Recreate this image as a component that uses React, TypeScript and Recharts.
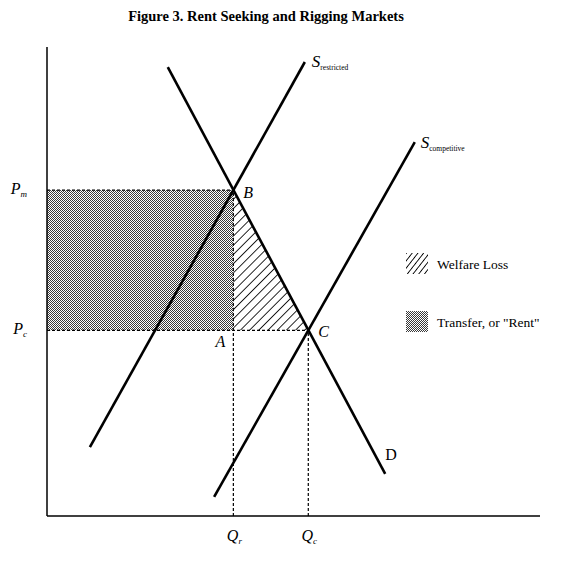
import React from 'react';
import {
  ComposedChart,
  Line,
  Area,
  XAxis,
  YAxis,
  ReferenceArea,
  ReferenceLine,
  ReferenceDot,
} from 'recharts';

// ---- Data ----
const TITLE = 'Figure 3. Rent Seeking and Rigging Markets';

// Equilibrium values
const P_M = 69.5; // restricted price
const P_C = 39.6; // competitive price
const Q_R = 37.8; // restricted quantity
const Q_C = 53.0; // competitive quantity

const priceTicks = [P_C, P_M];
const priceTickSubs: Record<string, string> = { [String(P_C)]: 'c', [String(P_M)]: 'm' };
const quantityTicks = [Q_R, Q_C];
const quantityTickSubs: Record<string, string> = { [String(Q_R)]: 'r', [String(Q_C)]: 'c' };

const sRestricted = [
  { q: 8.7, p: 14.7 },
  { q: 52.3, p: 96.8 },
];
const demand = [
  { q: 24.5, p: 95.7 },
  { q: 68.6, p: 9.0 },
];
const sCompetitive = [
  { q: 33.9, p: 4.1 },
  { q: 74.6, p: 79.7 },
];
const welfareLoss = [
  { q: Q_R, p: P_M },
  { q: Q_C, p: P_C },
];

const legendItems = [
  { label: 'Welfare Loss', fill: 'url(#hatchLegend)' },
  { label: 'Transfer, or "Rent"', fill: 'url(#stipple)' },
];

const FONT = '"Liberation Serif", "Times New Roman", serif';

const PTick = (props: any) => {
  const { x, y, payload } = props;
  const sub = priceTickSubs[String(payload.value)] ?? '';
  return (
    <text x={x - 12} y={y + 4} textAnchor="end" fontFamily={FONT} fill="#000">
      <tspan fontStyle="italic" fontSize={16}>P</tspan>
      <tspan fontStyle="italic" fontSize={9} dy={3}>{sub}</tspan>
    </text>
  );
};

const QTick = (props: any) => {
  const { x, y, payload } = props;
  const sub = quantityTickSubs[String(payload.value)] ?? '';
  return (
    <text x={x + 1} y={y + 17} textAnchor="middle" fontFamily={FONT} fill="#000">
      <tspan fontStyle="italic" fontSize={16}>Q</tspan>
      <tspan fontStyle="italic" fontSize={9} dy={3}>{sub}</tspan>
    </text>
  );
};

const pointLabel = (text: string, dx: number, dy: number, anchor: string, italic = true) =>
  (props: any) => {
    const vb = props.viewBox || {};
    const cx = (vb.x ?? 0) + (vb.width ?? 0) / 2;
    const cy = (vb.y ?? 0) + (vb.height ?? 0) / 2;
    return (
      <text
        x={cx + dx}
        y={cy + dy}
        textAnchor={anchor}
        fontFamily={FONT}
        fontSize={16}
        fontStyle={italic ? 'italic' : 'normal'}
        fill="#000"
      >
        {text}
      </text>
    );
  };

const supplyLabel = (sub: string, dx: number, dy: number) => (props: any) => {
  const vb = props.viewBox || {};
  const cx = (vb.x ?? 0) + (vb.width ?? 0) / 2;
  const cy = (vb.y ?? 0) + (vb.height ?? 0) / 2;
  return (
    <text x={cx + dx} y={cy + dy} fontFamily={FONT} fill="#000">
      <tspan fontStyle="italic" fontSize={17}>S</tspan>
      <tspan fontSize={7.5} dy={3}>{sub}</tspan>
    </text>
  );
};

const dash = { stroke: '#000', strokeWidth: 1.2, strokeDasharray: '3 2' };

export default function App() {
  return (
    <div style={{ position: 'absolute', left: 0, top: 0, width: 576, height: 561, background: '#fff' }}>
      <ComposedChart
        width={576}
        height={561}
        margin={{ top: 47, right: 36, left: 0, bottom: 0 }}
      >
        <defs>
          <pattern id="stipple" patternUnits="userSpaceOnUse" x={0} y={0} width={2} height={2}>
            <rect x={0} y={0} width={2} height={2} fill="#ffffff" shapeRendering="crispEdges" />
            <rect x={0} y={0} width={1} height={1} fill="#3a3a3a" shapeRendering="crispEdges" />
            <rect x={1} y={1} width={1} height={1} fill="#3a3a3a" shapeRendering="crispEdges" />
          </pattern>
          <pattern
            id="hatch"
            patternUnits="userSpaceOnUse"
            width={6.5}
            height={6.5}
            patternTransform="rotate(45)"
          >
            <line x1={0} y1={0} x2={0} y2={6.5} stroke="#000" strokeWidth={1.7} />
          </pattern>
          <pattern
            id="hatchLegend"
            patternUnits="userSpaceOnUse"
            width={4.5}
            height={4.5}
            patternTransform="rotate(38)"
          >
            <line x1={0} y1={0} x2={0} y2={4.5} stroke="#000" strokeWidth={1.8} />
          </pattern>
        </defs>

        <XAxis
          type="number"
          dataKey="q"
          domain={[0, 100]}
          allowDataOverflow
          ticks={quantityTicks}
          tick={<QTick />}
          tickLine={false}
          axisLine={{ stroke: '#000', strokeWidth: 1.5 }}
          height={45}
        />
        <YAxis
          type="number"
          dataKey="p"
          domain={[0, 100]}
          allowDataOverflow
          ticks={priceTicks}
          tick={<PTick />}
          tickLine={false}
          axisLine={{ stroke: '#000', strokeWidth: 1.5 }}
          width={47}
        />

        <ReferenceArea x1={0} x2={Q_R} y1={P_C} y2={P_M} fill="url(#stipple)" fillOpacity={1} stroke="none" />
        <Area
          data={welfareLoss}
          dataKey="p"
          type="linear"
          baseValue={P_C}
          fill="url(#hatch)"
          fillOpacity={1}
          stroke="none"
          isAnimationActive={false}
          dot={false}
          activeDot={false}
        />

        <ReferenceLine segment={[{ x: 0, y: P_M }, { x: Q_R, y: P_M }]} {...dash} />
        <ReferenceLine segment={[{ x: 0, y: P_C }, { x: Q_C, y: P_C }]} {...dash} />
        <ReferenceLine segment={[{ x: Q_R, y: 0 }, { x: Q_R, y: P_M }]} {...dash} />
        <ReferenceLine segment={[{ x: Q_C, y: 0 }, { x: Q_C, y: P_C }]} {...dash} />

        <Line data={sRestricted} dataKey="p" type="linear" stroke="#000" strokeWidth={2.6} dot={false} activeDot={false} isAnimationActive={false} />
        <Line data={demand} dataKey="p" type="linear" stroke="#000" strokeWidth={2.6} dot={false} activeDot={false} isAnimationActive={false} />
        <Line data={sCompetitive} dataKey="p" type="linear" stroke="#000" strokeWidth={2.6} dot={false} activeDot={false} isAnimationActive={false} />

        <ReferenceDot x={Q_R} y={P_M} r={0} stroke="none" fill="none" label={{ content: pointLabel('B', 10, 8, 'start') }} />
        <ReferenceDot x={Q_R} y={P_C} r={0} stroke="none" fill="none" label={{ content: pointLabel('A', -8, 17, 'end') }} />
        <ReferenceDot x={Q_C} y={P_C} r={0} stroke="none" fill="none" label={{ content: pointLabel('C', 10, 7, 'start') }} />
        <ReferenceDot x={demand[1].q} y={demand[1].p} r={0} stroke="none" fill="none" label={{ content: pointLabel('D', 0, -14, 'start', false) }} />
        <ReferenceDot x={sRestricted[1].q} y={sRestricted[1].p} r={0} stroke="none" fill="none" label={{ content: supplyLabel('restricted', 7, 5) }} />
        <ReferenceDot x={sCompetitive[1].q} y={sCompetitive[1].p} r={0} stroke="none" fill="none" label={{ content: supplyLabel('competitive', 6, 6) }} />

        <text x={266} y={21} textAnchor="middle" fontFamily={FONT} fontWeight="bold" fontSize={14.5} fill="#000">
          {TITLE}
        </text>

        <g>
          {legendItems.map((it, i) => (
            <g key={it.label} transform={`translate(406, ${253 + i * 58})`}>
              <rect x={0} y={0} width={22} height={21} fill={it.fill} />
              <text x={31} y={16} fontFamily={FONT} fontSize={13.5} fill="#000">
                {it.label}
              </text>
            </g>
          ))}
        </g>
      </ComposedChart>
    </div>
  );
}
